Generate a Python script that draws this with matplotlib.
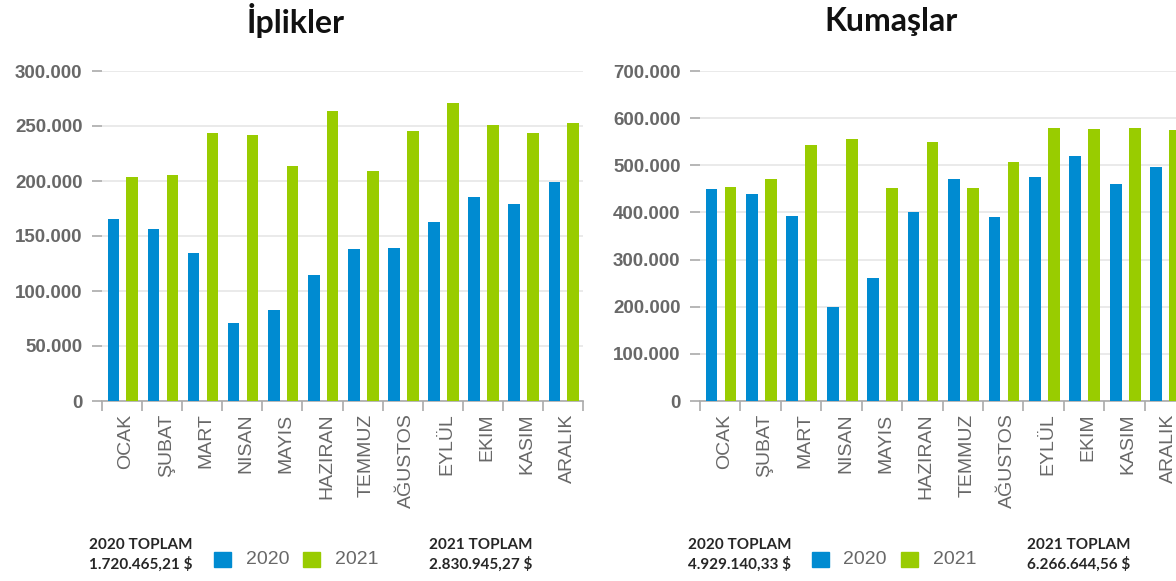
import matplotlib
matplotlib.use("Agg")
import matplotlib.pyplot as plt
import matplotlib.transforms as mtransforms
from matplotlib.patches import Rectangle
import numpy as np

months = ["OCAK", "ŞUBAT", "MART", "NISAN", "MAYIS", "HAZIRAN",
          "TEMMUZ", "AĞUSTOS", "EYLÜL", "EKIM", "KASIM", "ARALIK"]

iplik_2020 = [165500, 156400, 134800, 71200, 82400, 114500,
              138500, 139000, 162400, 185800, 179000, 199000]
iplik_2021 = [203600, 205500, 243300, 241800, 213900, 263600,
              209400, 245500, 270600, 250600, 243600, 252400]

kumas_2020 = [449000, 439000, 392400, 200000, 261600, 401600,
              471600, 389600, 475800, 519700, 461000, 495700]
kumas_2021 = [455000, 471600, 543700, 555800, 451000, 550000,
              451000, 507000, 579800, 577700, 579000, 575000]

iplik_ticks = [0, 50000, 100000, 150000, 200000, 250000, 300000]
kumas_ticks = [0, 100000, 200000, 300000, 400000, 500000, 600000, 700000]

titles = ["İplikler", "Kumaşlar"]
series_names = ["2020", "2021"]
totals_2020 = ["1.720.465,21 $", "4.929.140,33 $"]
totals_2021 = ["2.830.945,27 $", "6.266.644,56 $"]

BLUE = "#008bd1"
GREEN = "#99cc00"
GRAY_TXT = "#686868"
GRID = "#e6e6e6"

W, H = 1176, 581
fig = plt.figure(figsize=(W / 100, H / 100), dpi=100)


def fmt(v):
    return f"{int(v):,}".replace(",", ".")


def draw(ax, v20, v21, ticks):
    x = np.arange(len(months))
    w = 0.29
    ax.bar(x - 0.215, v20, width=w, color=BLUE, zorder=3)
    ax.bar(x + 0.255, v21, width=w, color=GREEN, zorder=3)
    ax.set_xlim(-0.5, len(months) - 0.5)
    ax.set_ylim(0, ticks[-1])
    ax.set_yticks(ticks)
    ax.set_yticklabels([fmt(t) for t in ticks], fontsize=13.5,
                       color=GRAY_TXT, fontweight="bold",
                       family="Liberation Sans")
    ax.yaxis.grid(True, color=GRID, linewidth=1.2, zorder=0)
    ax.tick_params(axis="y", length=7, width=1.2, color="#aaaaaa", pad=7)
    ax.set_xticks(x)
    ax.set_xticklabels(months, rotation=90, fontsize=14, color=GRAY_TXT,
                       family="Liberation Sans")
    ax.tick_params(axis="x", length=0, pad=9)
    ax.set_xticks(np.arange(-0.5, len(months)), minor=True)
    ax.tick_params(axis="x", which="minor", length=7, width=1.2,
                   color="#aaaaaa")
    offset = mtransforms.ScaledTranslation(4 / 100, 0, fig.dpi_scale_trans)
    for lab in ax.get_xticklabels():
        lab.set_transform(lab.get_transform() + offset)
    for s in ["top", "right", "left"]:
        ax.spines[s].set_visible(False)
    ax.spines["bottom"].set_color("#aaaaaa")
    ax.spines["bottom"].set_linewidth(1.2)


ax1 = fig.add_axes([102 / W, (H - 401) / H, 481 / W, 330 / H])
draw(ax1, iplik_2020, iplik_2021, iplik_ticks)
ax2 = fig.add_axes([700 / W, (H - 401) / H, 485 / W, 330 / H])
draw(ax2, kumas_2020, kumas_2021, kumas_ticks)

# titles
fig.text(296 / W, 1 - 21 / H, titles[0], ha="center", va="center",
         fontsize=23, fontweight="bold", family="Lato", color="#111111")
fig.text(891 / W, 1 - 21 / H, titles[1], ha="center", va="center",
         fontsize=23, fontweight="bold", family="Lato", color="#111111")


def legend(x20tot, sq1, txt1, sq2, txt2, x21tot, t20, t21):
    for xc, lbl, val in [(x20tot, "2020 TOPLAM", t20), (x21tot, "2021 TOPLAM", t21)]:
        fig.text(xc / W, 1 - 545 / H, lbl, ha="center", va="center",
                 fontsize=11, fontweight="bold", family="Lato", color="#262626")
        fig.text(xc / W, 1 - 564 / H, val, ha="center", va="center",
                 fontsize=11, fontweight="bold", family="Lato", color="#262626")
    for xs, col in [(sq1, BLUE), (sq2, GREEN)]:
        fig.patches.append(Rectangle((xs / W, 1 - 567 / H), 17 / W, 15 / H,
                                     transform=fig.transFigure, color=col))
    fig.text(txt1 / W, 1 - 560 / H, series_names[0], ha="left", va="center",
             fontsize=14, color=GRAY_TXT, family="Liberation Sans")
    fig.text(txt2 / W, 1 - 560 / H, series_names[1], ha="left", va="center",
             fontsize=14, color=GRAY_TXT, family="Liberation Sans")


legend(141, 214, 246, 303, 335, 481, totals_2020[0], totals_2021[0])
legend(740, 812, 843, 901, 933, 1079, totals_2020[1], totals_2021[1])

fig.savefig("out.png", dpi=100)
